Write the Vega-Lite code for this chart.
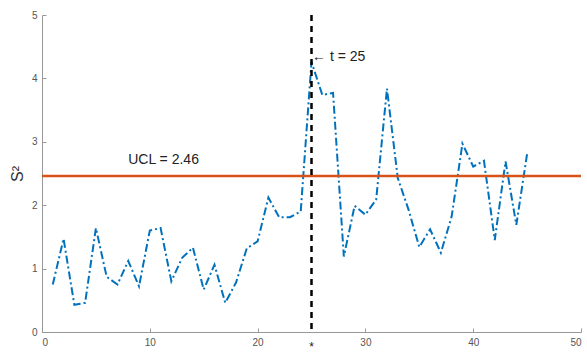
{
  "$schema": "https://vega.github.io/schema/vega-lite/v6.json",
  "width": 539,
  "height": 317,
  "autosize": "none",
  "padding": {"left": 42, "top": 15, "right": 6, "bottom": 24},
  "background": "white",
  "config": {"view": {"stroke": null}, "font": "Liberation Sans"},
  "datasets": {
    "s2": [
      {"t": 1, "s2": 0.75}, {"t": 2, "s2": 1.47}, {"t": 3, "s2": 0.43}, {"t": 4, "s2": 0.46},
      {"t": 5, "s2": 1.64}, {"t": 6, "s2": 0.87}, {"t": 7, "s2": 0.75}, {"t": 8, "s2": 1.12},
      {"t": 9, "s2": 0.72}, {"t": 10, "s2": 1.6}, {"t": 11, "s2": 1.64}, {"t": 12, "s2": 0.8},
      {"t": 13, "s2": 1.17}, {"t": 14, "s2": 1.33}, {"t": 15, "s2": 0.67}, {"t": 16, "s2": 1.06},
      {"t": 17, "s2": 0.46}, {"t": 18, "s2": 0.78}, {"t": 19, "s2": 1.32}, {"t": 20, "s2": 1.43},
      {"t": 21, "s2": 2.12}, {"t": 22, "s2": 1.81}, {"t": 23, "s2": 1.81}, {"t": 24, "s2": 1.9},
      {"t": 25, "s2": 4.26}, {"t": 26, "s2": 3.74}, {"t": 27, "s2": 3.77}, {"t": 28, "s2": 1.19},
      {"t": 29, "s2": 1.99}, {"t": 30, "s2": 1.85}, {"t": 31, "s2": 2.09}, {"t": 32, "s2": 3.84},
      {"t": 33, "s2": 2.43}, {"t": 34, "s2": 1.93}, {"t": 35, "s2": 1.34}, {"t": 36, "s2": 1.62},
      {"t": 37, "s2": 1.25}, {"t": 38, "s2": 1.82}, {"t": 39, "s2": 2.97}, {"t": 40, "s2": 2.61},
      {"t": 41, "s2": 2.7}, {"t": 42, "s2": 1.45}, {"t": 43, "s2": 2.69}, {"t": 44, "s2": 1.69},
      {"t": 45, "s2": 2.81}
    ]
  },
  "layer": [
    {
      "data": {"name": "s2"},
      "mark": {"type": "line", "color": "#0072BD", "strokeWidth": 2, "strokeDash": [8, 3, 2, 3]},
      "encoding": {
        "x": {"field": "t", "type": "quantitative", "scale": {"domain": [0, 50], "nice": false},
          "axis": {"title": null, "values": [0, 10, 20, 30, 40, 50], "format": "d", "grid": false, "domainColor": "#999", "tickColor": "#999", "tickSize": -4, "labelColor": "#555", "labelFontSize": 10, "labelPadding": 9}},
        "y": {"field": "s2", "type": "quantitative", "scale": {"domain": [0, 5], "nice": false},
          "axis": {"title": "S²", "titleFontSize": 16, "titleFontWeight": "normal", "titleColor": "#333", "titlePadding": 6, "values": [0, 1, 2, 3, 4, 5], "format": "d", "grid": false, "domainColor": "#999", "tickColor": "#999", "tickSize": -4, "labelColor": "#555", "labelFontSize": 10, "labelPadding": 9}}
      }
    },
    {
      "data": {"values": [{"ucl": 2.46}]},
      "mark": {"type": "rule", "color": "#D95319", "strokeWidth": 2.5},
      "encoding": {"y": {"field": "ucl", "type": "quantitative"}}
    },
    {
      "data": {"values": [{"t": 25}]},
      "mark": {"type": "rule", "color": "black", "strokeWidth": 2.5, "strokeDash": [6, 5]},
      "encoding": {"x": {"field": "t", "type": "quantitative"}}
    },
    {
      "data": {"values": [
        {"x": 8, "y": 2.72, "label": "UCL = 2.46"},
        {"x": 25.05, "y": 4.33, "label": "← t = 25"}
      ]},
      "mark": {"type": "text", "fontSize": 14, "color": "#222", "align": "left", "baseline": "middle"},
      "encoding": {
        "x": {"field": "x", "type": "quantitative"},
        "y": {"field": "y", "type": "quantitative"},
        "text": {"field": "label"}
      }
    },
    {
      "data": {"values": [{"x": 25, "y": -0.15, "label": "*"}]},
      "mark": {"type": "text", "fontSize": 12, "color": "#222", "align": "center", "baseline": "top"},
      "encoding": {
        "x": {"field": "x", "type": "quantitative"},
        "y": {"field": "y", "type": "quantitative"},
        "text": {"field": "label"}
      }
    }
  ]
}
